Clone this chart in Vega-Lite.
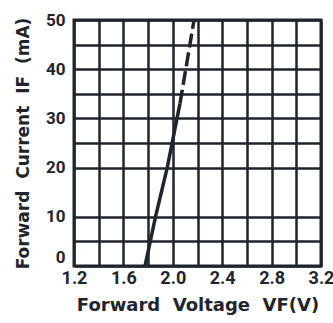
{
  "$schema": "https://vega.github.io/schema/vega-lite/v6.json",
  "width": 247,
  "height": 246,
  "autosize": {"type": "none"},
  "padding": {"left": 74, "top": 20, "right": 12, "bottom": 57},
  "background": "white",
  "config": {
    "view": {"stroke": "#1e252c", "strokeWidth": 3},
    "axis": {
      "domain": false,
      "ticks": false,
      "grid": true,
      "gridColor": "#1e252c",
      "gridWidth": 2.5,
      "gridOpacity": 1,
      "labelFont": "Roboto",
      "labelFontWeight": "bold",
      "labelFontSize": 18,
      "labelColor": "#1e252c",
      "titleFont": "DejaVu Sans",
      "titleFontWeight": "bold",
      "titleFontSize": 17,
      "titleColor": "#1e252c"
    }
  },
  "data": {
    "values": [
      {"voltage": 1.775, "current": 0, "seg": "measured"},
      {"voltage": 1.86, "current": 10, "seg": "measured"},
      {"voltage": 1.955, "current": 20, "seg": "measured"},
      {"voltage": 2.058, "current": 33, "seg": "measured"},
      {"voltage": 2.058, "current": 33, "seg": "extrapolated"},
      {"voltage": 2.172, "current": 50, "seg": "extrapolated"}
    ]
  },
  "mark": {"type": "line", "strokeWidth": 3.5, "color": "#1e252c", "clip": true},
  "encoding": {
    "x": {
      "field": "voltage",
      "type": "quantitative",
      "scale": {"domain": [1.2, 3.2], "nice": false, "zero": false},
      "axis": {
        "values": [1.2, 1.4, 1.6, 1.8, 2.0, 2.2, 2.4, 2.6, 2.8, 3.0, 3.2],
        "format": ".1f",
        "labelExpr": "indexof(['1.2','1.6','2.0','2.4','2.8','3.2'], datum.label) >= 0 ? datum.label : ''",
        "labelPadding": 3,
        "labelFontSize": 18,
        "labelFlush": false,
        "labelOverlap": false,
        "title": "Forward\u00a0\u00a0Voltage\u00a0\u00a0VF(V)",
        "titleFontSize": 18,
        "titlePadding": 9
      }
    },
    "y": {
      "field": "current",
      "type": "quantitative",
      "scale": {"domain": [0, 50], "nice": false},
      "axis": {
        "values": [0, 5, 10, 20, 25, 30, 35, 40, 45, 50],
        "labelExpr": "datum.value % 10 == 0 ? datum.label : ''",
        "labelBaseline": {"condition": {"test": "datum.value == 0", "value": "bottom"}, "value": "middle"},
        "labelFontSize": 17,
        "labelPadding": 9,
        "labelFlush": false,
        "labelOverlap": false,
        "title": "Forward\u00a0\u00a0Current\u00a0\u00a0IF\u00a0\u00a0(mA)",
        "titlePadding": 13
      }
    },
    "strokeDash": {
      "field": "seg",
      "type": "nominal",
      "scale": {"domain": ["measured", "extrapolated"], "range": [[1, 0], [14, 5]]},
      "legend": null
    }
  }
}
